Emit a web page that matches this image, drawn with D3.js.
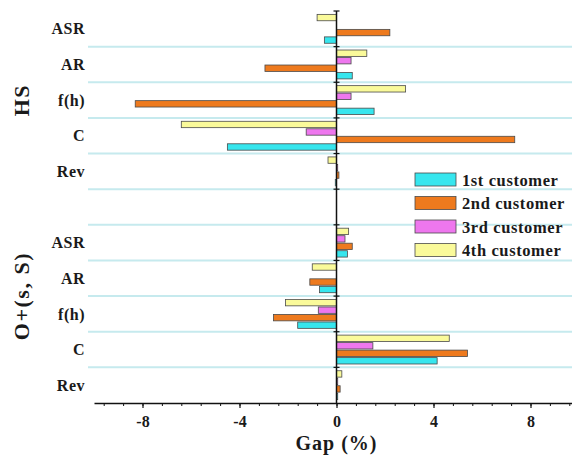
<!DOCTYPE html>
<html>
<head>
<meta charset="utf-8">
<script src="https://cdn.jsdelivr.net/npm/d3@7"></script>
<style>
  body { margin: 0; background: #fff; }
  text { font-family: "Liberation Serif", "Times New Roman", serif; font-weight: bold; fill: #1a1a1a; }
</style>
</head>
<body>
<script>
// categories, groups and series
var categories = ["ASR", "AR", "f(h)", "C", "Rev"];
var groups = ["HS", "O+(s, S)"];
var seriesNames = ["1st customer", "2nd customer", "3rd customer", "4th customer"];
var seriesColors = ["#36e6ee", "#ee7a1e", "#ee77ee", "#fafa9a"];

// gap values (%) per series, in category order
var hs1st = [-0.5, 0.65, 1.55, -4.5, -0.05];
var hs2nd = [2.2, -2.95, -8.3, 7.35, 0.1];
var hs3rd = [0, 0.6, 0.6, -1.25, 0.05];
var hs4th = [-0.8, 1.25, 2.85, -6.4, -0.35];

var os1st = [0.45, -0.7, -1.6, 4.15, 0.05];
var os2nd = [0.65, -1.1, -2.6, 5.4, 0.15];
var os3rd = [0.35, 0, -0.75, 1.5, 0.05];
var os4th = [0.5, -1.0, -2.1, 4.65, 0.22];

var xTickLabels = [-8, -4, 0, 4, 8];

var svgWidth = 572;
var svgHeight = 464;

var svg = d3.select("body")
  .append("svg")
  .attr("width", svgWidth)
  .attr("height", svgHeight);

// rows: 5 HS categories, one empty slot, 5 O+(s,S) categories
var rows = [];
categories.forEach(function (c, i) {
  rows.push({ key: "HS-" + c, label: c, values: [hs1st[i], hs2nd[i], hs3rd[i], hs4th[i]] });
});
rows.push({ key: "blank", label: "", values: [] });
categories.forEach(function (c, i) {
  rows.push({ key: "OS-" + c, label: c, values: [os1st[i], os2nd[i], os3rd[i], os4th[i]] });
});

var plotTop = 11, plotBottom = 403;

var xScale = d3.scaleLinear()
  .domain([-10, 10])
  .range([94, 579]);

var yScale = d3.scaleBand()
  .domain(rows.map(d => d.key))
  .range([plotTop, plotBottom])
  .padding(0);

// 4th series on top, 1st at the bottom of each row
var inner = d3.scaleBand()
  .domain([3, 2, 1, 0])
  .range([0, yScale.bandwidth()])
  .paddingInner(0.15)
  .paddingOuter(0.45);

// separator lines between rows
var bounds = d3.range(1, rows.length).map(i => plotTop + i * yScale.step());
svg.selectAll(".sep")
  .data(bounds)
  .enter()
  .append("line")
  .attr("x1", 88)
  .attr("x2", svgWidth)
  .attr("y1", d => d)
  .attr("y2", d => d)
  .attr("stroke", "#c6eaee")
  .attr("stroke-width", 2);

// bars
var barData = [];
rows.forEach(function (r) {
  r.values.forEach(function (v, s) {
    barData.push({ key: r.key, s: s, v: v });
  });
});

svg.selectAll(".bar")
  .data(barData.filter(d => d.v !== 0))
  .enter()
  .append("rect")
  .attr("x", d => xScale(Math.min(0, d.v)))
  .attr("y", d => yScale(d.key) + inner(d.s))
  .attr("width", d => Math.abs(xScale(d.v) - xScale(0)))
  .attr("height", inner.bandwidth())
  .attr("fill", d => seriesColors[d.s])
  .attr("stroke", "#4a4a4a")
  .attr("stroke-width", 0.8);

// zero line with small ticks at row boundaries
svg.append("line")
  .attr("x1", xScale(0))
  .attr("x2", xScale(0))
  .attr("y1", plotTop)
  .attr("y2", plotBottom)
  .attr("stroke", "#111")
  .attr("stroke-width", 1.5);

svg.selectAll(".ytick")
  .data([plotTop].concat(bounds))
  .enter()
  .append("line")
  .attr("x1", xScale(0) - 3)
  .attr("x2", xScale(0) + 3)
  .attr("y1", d => d)
  .attr("y2", d => d)
  .attr("stroke", "#111")
  .attr("stroke-width", 1.2);

// x axis: minor ticks then major ticks with labels
var minorAxis = d3.axisBottom(xScale)
  .tickValues(d3.range(-12, 13).map(i => i * 0.8).filter(v => Math.abs(v) <= 10))
  .tickSize(3)
  .tickFormat("");

svg.append("g")
  .attr("transform", `translate(0, ${plotBottom})`)
  .call(minorAxis)
  .call(g => g.select(".domain").remove())
  .selectAll("line")
  .attr("stroke", "#111");

var bottomAxis = d3.axisBottom(xScale)
  .tickValues(xTickLabels)
  .tickSize(5)
  .tickSizeOuter(0)
  .tickPadding(8)
  .tickFormat(d => String(d));

var xAxisG = svg.append("g")
  .attr("transform", `translate(0, ${plotBottom})`)
  .call(bottomAxis);

xAxisG.select(".domain").attr("stroke", "#111").attr("stroke-width", 1.5);
xAxisG.selectAll("line").attr("stroke", "#111").attr("stroke-width", 1.2);
xAxisG.selectAll("text")
  .style("font-family", "Liberation Serif, serif")
  .style("font-weight", "bold")
  .style("font-size", "16px")
  .attr("fill", "#1a1a1a");

// category labels
svg.selectAll(".cat")
  .data(rows.filter(d => d.label))
  .enter()
  .append("text")
  .attr("x", 85)
  .attr("y", d => yScale(d.key) + yScale.bandwidth() / 2)
  .attr("dy", "0.35em")
  .attr("text-anchor", "end")
  .style("font-size", "16px")
  .style("letter-spacing", "0.5px")
  .text(d => d.label);

// group labels
var groupCenters = [(plotTop + bounds[4]) / 2, (bounds[4] + plotBottom) / 2];
svg.selectAll(".grp")
  .data(groups)
  .enter()
  .append("text")
  .attr("transform", (d, i) => `translate(29, ${groupCenters[i]}) rotate(-90)`)
  .attr("text-anchor", "middle")
  .style("font-size", "22px")
  .style("letter-spacing", "1.5px")
  .text(d => d);

// x axis title
svg.append("text")
  .attr("x", xScale(0))
  .attr("y", 450)
  .attr("text-anchor", "middle")
  .style("font-size", "20px")
  .style("letter-spacing", "1px")
  .text("Gap (%)");

// legend
var legend = svg.append("g")
  .attr("transform", "translate(415, 173)");

var legendItems = legend.selectAll("g")
  .data(seriesNames)
  .enter()
  .append("g")
  .attr("transform", (d, i) => `translate(0, ${i * 23.5})`);

legendItems.append("rect")
  .attr("width", 41)
  .attr("height", 13)
  .attr("fill", (d, i) => seriesColors[i])
  .attr("stroke", "#4a4a4a")
  .attr("stroke-width", 0.8);

legendItems.append("text")
  .attr("x", 47)
  .attr("y", 7)
  .attr("dy", "0.35em")
  .style("font-size", "16.5px")
  .style("letter-spacing", "0.6px")
  .text(d => d);
</script>
</body>
</html>
